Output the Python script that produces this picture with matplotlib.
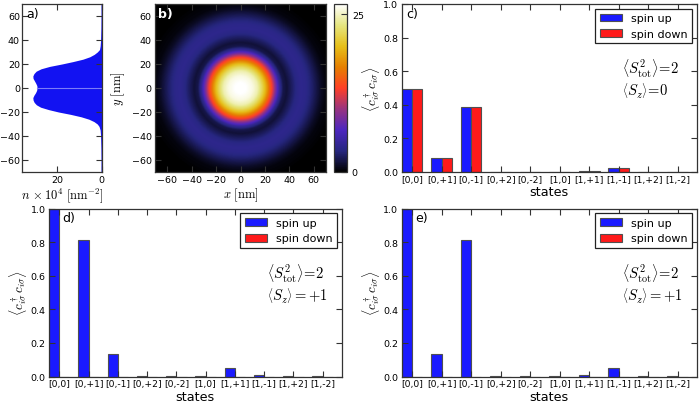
import numpy as np
import matplotlib
matplotlib.use('Agg')
import matplotlib.pyplot as plt

plt.rcParams['mathtext.fontset'] = 'cm'
plt.rcParams['font.family'] = ['DejaVu Sans']

# ---------------- data ----------------
# panel a: density profile n(y)
a_y = [70, 60, 50, 40, 35, 32, 30, 28, 26, 24, 22, 20, 18, 16, 14, 12, 10, 8, 6, 4, 2, 0,
       -2, -4, -6, -8, -10, -12, -14, -16, -18, -20, -22, -24, -26, -28, -30, -32, -35,
       -40, -50, -60, -70]
a_n = [0.3, 0.3, 0.35, 0.5, 0.7, 1.0, 2.0, 3.4, 5.4, 8.5, 13, 18, 23.5, 27.4, 29.6, 30.6,
       31.1, 31.0, 30.4, 29.8, 29.3, 29.2,
       29.4, 29.9, 30.6, 31.1, 31.0, 30.5, 29.5, 27.6, 24, 19.5, 14, 9.3, 5.8, 3.5, 2.0,
       1.2, 0.7, 0.5, 0.35, 0.3, 0.3]

# panel b: radial density profile of the 2D map
b_r = [0, 5, 10, 14, 17, 20, 23, 26, 29, 32, 35, 38, 42, 46, 50, 54, 58, 62, 66, 70, 80, 110]
b_val = [26.6, 26.5, 25.8, 24.5, 22.5, 20.0, 16.5, 12.8, 8.5, 4.5, 2.0, 1.5, 2.5, 3.6, 4.0,
         3.8, 3.0, 2.0, 1.0, 0.4, 0.0, 0.0]
b_vmax = 26.6

states = ['[0,0]', '[0,+1]', '[0,-1]', '[0,+2]', '[0,-2]', '[1,0]', '[1,+1]', '[1,-1]',
          '[1,+2]', '[1,-2]']
c_up = [0.497, 0.081, 0.386, 0.0, 0.0, 0.001, 0.008, 0.024, 0.0, 0.0]
c_down = [0.497, 0.081, 0.386, 0.0, 0.0, 0.001, 0.008, 0.024, 0.0, 0.0]
d_up = [0.995, 0.81, 0.134, 0.001, 0.001, 0.002, 0.049, 0.009, 0.003, 0.002]
d_down = [0.0] * 10
e_up = [0.995, 0.132, 0.81, 0.001, 0.001, 0.002, 0.009, 0.052, 0.003, 0.002]
e_down = [0.0] * 10

# ---------------- figure ----------------
W, H = 700, 406
fig = plt.figure(figsize=(W / 100, H / 100), dpi=100)


def rect(x0, y0, x1, y1):
    return [x0 / W, 1 - y1 / H, (x1 - x0) / W, (y1 - y0) / H]


SPINE = '#333333'
TICKFS = 6.8


def style(ax):
    for s in ax.spines.values():
        s.set_color(SPINE)
        s.set_linewidth(0.9)
    ax.tick_params(direction='in', top=True, right=True, length=4, width=0.8,
                   labelsize=TICKFS, color=SPINE, pad=2.5)


# panel a
axa = fig.add_axes(rect(22, 5, 101.7, 173))
axa.fill_betweenx(a_y, 0, a_n, color='#1212f2', lw=0)
axa.plot([0, a_n[a_y.index(0)]], [0, 0], color='#7c7cf8', lw=0.8)
axa.set_xlim(36, 0)
axa.set_ylim(-70, 70)
axa.set_xticks([20, 0])
axa.set_yticks(range(-60, 61, 20))
style(axa)
axa.tick_params(axis='y', pad=1.5)
axa.set_xlabel(r'$n\,\times 10^4\ [\mathrm{nm}^{-2}]$', fontsize=9, labelpad=1)
axa.text(0.05, 0.985, 'a)', transform=axa.transAxes, ha='left', va='top', fontsize=9)

# panel b
axb = fig.add_axes(rect(155, 5, 326, 173))
g = np.linspace(-70, 70, 281)
X, Y = np.meshgrid(g, g)
Z = np.interp(np.hypot(X, Y), b_r, b_val)
im = axb.imshow(Z, extent=[-70, 70, -70, 70], origin='lower', cmap='CMRmap', vmin=0,
                vmax=b_vmax, aspect='auto', interpolation='bilinear')
axb.set_xticks(range(-60, 61, 20))
axb.set_yticks(range(-60, 61, 20))
style(axb)
axb.set_xlabel(r'$x\ [\mathrm{nm}]$', fontsize=9, labelpad=1)
axb.set_ylabel(r'$y\ [\mathrm{nm}]$', fontsize=9, labelpad=3)
axb.text(0.02, 0.985, 'b)', transform=axb.transAxes, ha='left', va='top', fontsize=9,
         color='white', fontweight='bold')

cax = fig.add_axes(rect(334, 5, 347, 173))
cb = fig.colorbar(im, cax=cax, ticks=[0, 25])
cb.outline.set_edgecolor(SPINE)
cb.outline.set_linewidth(0.9)
cax.tick_params(labelsize=TICKFS, direction='in', length=4, color=SPINE)

UPC = '#1a1aff'
DNC = '#ff1a1a'
EDGE = '#505050'


def bar_panel(rc, up, down, label, lx, sz):
    ax = fig.add_axes(rect(*rc))
    x = np.arange(len(states))
    ax.bar(x, up, 0.35, align='edge', color=UPC, edgecolor=EDGE, lw=0.8, label='spin up')
    ax.bar(x + 0.35, down, 0.35, align='edge', color=DNC, edgecolor=EDGE, lw=0.8,
           label='spin down')
    ax.set_xlim(0, 10)
    ax.set_ylim(0, 1)
    ax.set_xticks(x + 0.35)
    ax.set_xticklabels(states)
    ax.set_yticks(np.arange(0, 1.01, 0.2))
    ax.set_yticklabels(['%.1f' % v for v in np.arange(0, 1.01, 0.2)])
    style(ax)
    ax.tick_params(axis='x', labelsize=6.6, pad=2)
    ax.set_xlabel('states', fontsize=9.2, labelpad=1)
    ax.set_ylabel(r'$\left\langle c^\dagger_{i\sigma}\,c_{i\sigma}\right\rangle$',
                  fontsize=9.5, labelpad=1)
    leg = ax.legend(loc='upper right', fontsize=8, fancybox=False, framealpha=1,
                    borderaxespad=0.45, handlelength=2.0)
    leg.get_frame().set_edgecolor('#222222')
    leg.get_frame().set_linewidth(0.9)
    ax.text(lx, 0.985, label, transform=ax.transAxes, ha='left', va='top', fontsize=9)
    ax.text(0.745, 0.625, r'$\left\langle S^2_{\rm tot}\right\rangle\!=\!2$',
            transform=ax.transAxes, ha='left', va='center', fontsize=10.5)
    ax.text(0.745, 0.49, sz, transform=ax.transAxes, ha='left', va='center', fontsize=10.5)
    return ax


bar_panel((401.7, 5, 697, 173), c_up, c_down, 'c)', 0.017,
          r'$\left\langle S_z\right\rangle\!=\!0$')
bar_panel((49, 209.5, 341.7, 377.5), d_up, d_down, 'd)', 0.045,
          r'$\left\langle S_z\right\rangle=+1$')
bar_panel((401.7, 209.5, 697, 377.5), e_up, e_down, 'e)', 0.045,
          r'$\left\langle S_z\right\rangle=+1$')

fig.savefig('out.png', dpi=100)
